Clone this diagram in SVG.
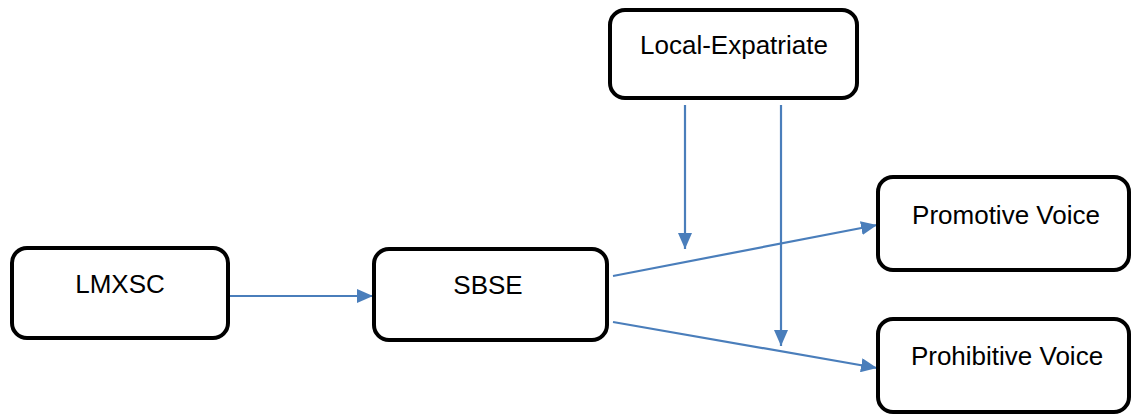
<svg xmlns="http://www.w3.org/2000/svg" width="1132" height="417" viewBox="0 0 1132 417">
<style>
.box{fill:#fff;stroke:#000;stroke-width:4}
.lbl{font-family:"Liberation Sans",Arial,sans-serif;font-size:26px;fill:#000;text-anchor:middle}
.con{stroke:#4a7ebb;stroke-width:2.2;fill:none;marker-end:url(#ah)}
</style>
<defs>
<marker id="ah" markerUnits="userSpaceOnUse" markerWidth="16" markerHeight="14" refX="16" refY="7" orient="auto">
<path d="M0,0 L16,7 L0,14 Z" fill="#4a7ebb"/>
</marker>
</defs>
<rect width="1132" height="417" fill="#fff"/>
<g id="connectors">
<line class="con" x1="230" y1="296" x2="373" y2="296"/>
<line class="con" x1="613" y1="276" x2="877" y2="225"/>
<line class="con" x1="613" y1="322" x2="877" y2="368"/>
<line class="con" x1="685" y1="105" x2="685" y2="249"/>
<line class="con" x1="781" y1="105" x2="781" y2="346"/>
</g>
<g id="lmxsc">
<rect class="box" x="12" y="248" width="216" height="90" rx="15"/>
<text class="lbl" x="120" y="293">LMXSC</text>
</g>
<g id="sbse">
<rect class="box" x="374" y="249" width="233" height="91" rx="15"/>
<text class="lbl" x="488" y="294">SBSE</text>
</g>
<g id="local-expatriate">
<rect class="box" x="610" y="10" width="247" height="88" rx="15"/>
<text class="lbl" x="734" y="54">Local-Expatriate</text>
</g>
<g id="promotive-voice">
<rect class="box" x="878" y="177" width="251" height="93" rx="15"/>
<text class="lbl" x="1006" y="224">Promotive Voice</text>
</g>
<g id="prohibitive-voice">
<rect class="box" x="878" y="319" width="251" height="93" rx="15"/>
<text class="lbl" x="1007" y="365">Prohibitive Voice</text>
</g>
</svg>
